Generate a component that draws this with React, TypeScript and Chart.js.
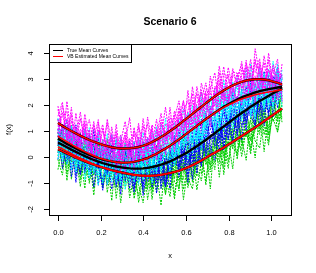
import React, { useEffect, useRef } from "react";
import { Chart, registerables } from "chart.js";

Chart.register(...registerables);

// ---------------- data ----------------
const xs = [0, 0.021, 0.042, 0.063, 0.084, 0.105, 0.126, 0.147, 0.168, 0.189, 0.21, 0.231, 0.252, 0.273, 0.294, 0.315, 0.336, 0.357, 0.378, 0.399, 0.42, 0.441, 0.462, 0.483, 0.504, 0.525, 0.546, 0.567, 0.588, 0.609, 0.63, 0.651, 0.672, 0.693, 0.714, 0.735, 0.756, 0.777, 0.798, 0.819, 0.84, 0.861, 0.882, 0.903, 0.924, 0.945, 0.966, 0.987, 1.008, 1.029, 1.05];

// true mean curves (black)
const trueMagenta = [1.30, 1.19, 1.09, 0.99, 0.90, 0.81, 0.73, 0.65, 0.58, 0.52, 0.46, 0.41, 0.37, 0.34, 0.32, 0.32, 0.33, 0.35, 0.38, 0.43, 0.49, 0.57, 0.66, 0.76, 0.87, 0.99, 1.11, 1.24, 1.38, 1.51, 1.65, 1.79, 1.92, 2.06, 2.19, 2.32, 2.44, 2.55, 2.65, 2.74, 2.82, 2.88, 2.93, 2.96, 2.98, 2.98, 2.97, 2.94, 2.89, 2.84, 2.78];
const trueCyan = [0.70, 0.60, 0.50, 0.41, 0.32, 0.23, 0.15, 0.08, 0.01, -0.05, -0.10, -0.14, -0.18, -0.20, -0.22, -0.22, -0.21, -0.19, -0.15, -0.10, -0.04, 0.04, 0.12, 0.22, 0.32, 0.43, 0.55, 0.67, 0.80, 0.93, 1.06, 1.19, 1.32, 1.45, 1.57, 1.69, 1.81, 1.92, 2.02, 2.11, 2.20, 2.28, 2.35, 2.41, 2.47, 2.52, 2.56, 2.60, 2.63, 2.66, 2.69];
const trueBlue = [0.55, 0.46, 0.37, 0.28, 0.19, 0.11, 0.03, -0.05, -0.12, -0.18, -0.24, -0.29, -0.33, -0.37, -0.40, -0.42, -0.44, -0.45, -0.45, -0.44, -0.42, -0.39, -0.35, -0.30, -0.24, -0.17, -0.09, 0.00, 0.09, 0.19, 0.30, 0.41, 0.53, 0.65, 0.78, 0.91, 1.04, 1.17, 1.30, 1.43, 1.56, 1.68, 1.80, 1.92, 2.03, 2.14, 2.24, 2.34, 2.44, 2.53, 2.62];
const trueGreen = [0.29, 0.21, 0.13, 0.05, -0.03, -0.10, -0.17, -0.24, -0.30, -0.36, -0.41, -0.46, -0.51, -0.55, -0.59, -0.63, -0.66, -0.69, -0.71, -0.72, -0.73, -0.72, -0.71, -0.69, -0.66, -0.62, -0.58, -0.53, -0.47, -0.40, -0.32, -0.23, -0.14, -0.04, 0.07, 0.16, 0.26, 0.36, 0.47, 0.58, 0.69, 0.80, 0.91, 1.02, 1.13, 1.25, 1.37, 1.49, 1.61, 1.73, 1.85];

// VB estimated mean curves (red)
const estMagenta = [1.30, 1.19, 1.09, 0.99, 0.90, 0.81, 0.73, 0.65, 0.58, 0.52, 0.46, 0.41, 0.37, 0.34, 0.32, 0.32, 0.33, 0.35, 0.38, 0.43, 0.49, 0.57, 0.66, 0.76, 0.87, 0.99, 1.11, 1.24, 1.38, 1.51, 1.65, 1.79, 1.92, 2.06, 2.19, 2.32, 2.44, 2.55, 2.65, 2.74, 2.82, 2.88, 2.93, 2.96, 2.98, 2.98, 2.97, 2.94, 2.89, 2.84, 2.78];
const estCyan = [0.79, 0.68, 0.58, 0.48, 0.38, 0.29, 0.20, 0.12, 0.04, -0.03, -0.08, -0.13, -0.17, -0.20, -0.22, -0.22, -0.21, -0.19, -0.15, -0.10, -0.04, 0.04, 0.12, 0.22, 0.32, 0.43, 0.55, 0.67, 0.80, 0.93, 1.06, 1.19, 1.32, 1.45, 1.57, 1.69, 1.80, 1.90, 1.99, 2.07, 2.15, 2.22, 2.28, 2.33, 2.38, 2.42, 2.46, 2.49, 2.52, 2.55, 2.58];
const estBlue = [0.39, 0.30, 0.21, 0.12, 0.03, -0.05, -0.13, -0.21, -0.28, -0.35, -0.41, -0.46, -0.51, -0.55, -0.59, -0.63, -0.66, -0.69, -0.71, -0.72, -0.73, -0.72, -0.71, -0.69, -0.66, -0.62, -0.58, -0.53, -0.47, -0.40, -0.32, -0.23, -0.14, -0.04, 0.07, 0.16, 0.26, 0.36, 0.47, 0.58, 0.69, 0.80, 0.91, 1.02, 1.13, 1.25, 1.37, 1.49, 1.61, 1.73, 1.85];
const estGreen = [0.29, 0.21, 0.13, 0.05, -0.03, -0.10, -0.17, -0.24, -0.30, -0.36, -0.41, -0.46, -0.51, -0.55, -0.59, -0.63, -0.66, -0.69, -0.71, -0.72, -0.73, -0.72, -0.71, -0.69, -0.66, -0.62, -0.58, -0.53, -0.47, -0.40, -0.32, -0.23, -0.14, -0.04, 0.07, 0.16, 0.26, 0.36, 0.47, 0.58, 0.69, 0.80, 0.91, 1.02, 1.13, 1.25, 1.37, 1.49, 1.61, 1.73, 1.85];

// observed curves: deviations from the group mean, in units of NOISE_UNIT
const NOISE_UNIT = 0.13;
const noiseGreen = [
  [3, -5, 7, -2, 0, -8, 4, 6, -3, 1, -6, 9, -1, 2, -4, 5, -7, 0, 3, -2, 8, -5, 1, -9, 4, -1, 6, -3, 2, -6, 0, 7, -4, 3, -10, 5, -2, 1, -7, 4, 8, -3, 0, -5, 2, 6, -1, -8, 3, 5, -4],
  [-2, 4, -6, 1, 5, -3, 0, 8, -7, 2, 6, -4, -1, 3, -9, 1, 5, -2, 7, -5, 0, -3, 4, 9, -6, 2, -8, 3, -1, 5, -4, 6, 1, -7, 2, -5, 10, -2, 0, 4, -6, 3, 7, -3, -1, 5, -9, 2, 4, -2, 6],
  [5, -1, 2, -7, 3, 8, -4, -2, 6, 0, -5, 1, 4, -8, 3, -2, 7, -6, 2, 5, -3, -1, 9, -4, 0, 6, -7, 1, 3, -5, 8, -2, -6, 4, 1, -3, 5, -8, 2, 7, -1, -4, 6, 0, -9, 3, 2, -5, 8, -3, 1],
  [-6, 2, 0, 5, -3, 1, -8, 7, 3, -4, 2, 6, -2, -5, 8, -1, 3, -7, 0, 4, -4, 7, -2, 1, -6, 9, -3, -5, 2, 6, -2, 0, 4, -8, 5, 2, -3, -6, 7, 1, -5, 8, -1, 3, -4, -7, 2, 5, -2, 0, 4],
  [1, 7, -4, -1, 3, -6, 5, 2, -9, 4, 0, -3, 7, 1, -5, 6, -2, 3, -8, 0, 5, -4, 2, 6, -1, -7, 4, 0, -3, 8, -5, 3, -1, 6, -4, 7, -8, 2, 5, -2, 3, -6, 1, -3, 9, -2, 4, -7, 1, 6, -3],
  [-3, -7, 4, 2, -1, 6, -2, -5, 1, 7, -4, 3, -9, 5, 0, -3, 8, -1, -6, 2, 4, -7, 3, -2, 7, -5, 1, 5, -9, 0, 3, -4, 7, -1, -5, 2, 6, -3, 1, -8, 5, -2, 4, -6, 0, 8, -4, 1, -1, -6, 2],
  [4, 0, -3, 9, -5, -2, 3, -6, 4, 1, 8, -7, 2, -1, 5, -4, 0, 6, -3, -8, 1, 3, -5, 7, -2, 0, 4, -6, 9, -3, -7, 2, 5, -2, 3, -1, -4, 6, -5, 2, 7, -1, -8, 4, 1, -3, 6, -5, 0, -2, 7],
  [-1, 6, -8, 3, 2, -4, 7, -1, -3, 5, -6, 0, 4, -2, 1, 9, -5, -3, 2, 6, -7, 1, -4, 3, 0, 5, -2, 7, -6, 1, 4, -8, 0, 3, -3, 6, -1, -5, 8, -2, -4, 2, 1, -7, 5, -1, 3, -3, 7, -6, 0],
];
const noiseBlue = [
  [2, -4, 1, 6, -7, 3, -1, 5, -3, 0, -8, 4, 2, -5, 7, -2, 1, -6, 3, 8, -4, 0, 5, -1, -7, 2, 6, -3, 1, -9, 4, -2, 7, -5, 0, 3, -6, 2, 8, -1, -3, 5, -4, 1, -7, 6, 0, -2, 4, -5, 3],
  [-5, 3, 8, -2, 0, -6, 1, 4, -4, 7, -1, -3, 6, 2, -8, 5, -2, 0, 4, -6, 9, -3, 1, -5, 2, -1, 7, -4, 3, -7, 0, 5, -2, 6, -3, -8, 1, 4, -1, 5, -6, 2, 7, -3, 0, -4, 8, -5, 1, 3, -2],
  [0, 6, -3, 4, -9, 2, -5, 7, 1, -2, 4, -6, 0, 8, -4, 3, -1, -7, 5, 2, -3, 6, -8, 1, 4, -5, 2, 0, 7, -3, -1, 4, -6, 2, 9, -4, -2, 6, -5, 3, 1, -8, 4, -1, 6, -3, 2, -6, 5, -1, 0],
  [7, -2, -5, 1, 4, -3, 8, -6, 2, -1, 5, 3, -7, 0, 6, -4, 2, -2, 7, -8, 1, 4, -3, 5, -6, 3, -1, 8, -4, 0, -5, 7, -2, 1, -6, 4, 2, -7, 3, 0, 6, -4, -1, 5, -3, 2, -8, 6, -2, 4, -1],
  [-3, 1, 4, -6, 8, 0, -4, 2, 5, -7, 3, -2, 9, -5, 1, -1, 6, -3, -4, 3, 7, -6, 0, 2, -2, -8, 5, 3, -1, 6, -4, 1, -7, 4, 2, 5, -3, 0, -5, 8, -2, 3, -6, 7, -1, 1, -4, 5, -7, 2, 4],
  [4, -7, 2, 0, -3, 6, -1, -4, 9, -2, -5, 1, 3, -6, 4, 7, -3, 2, -1, -5, 0, 8, -4, 3, -7, 1, -2, 5, 2, -4, 6, -8, 3, 0, 5, -2, -4, 7, -1, -6, 3, 0, -3, 8, -5, 2, 6, -1, -4, 1, -2],
  [-1, 5, -4, 7, 2, -6, 3, 0, -8, 4, 1, -3, 5, -1, -6, 2, 8, -5, 0, 3, -2, -4, 6, -7, 1, 4, -1, -3, 6, 2, -9, 3, 1, -4, 7, -2, 5, -6, 0, 2, -5, 7, 1, -3, 3, -7, 0, 4, -2, 6, -3],
  [3, -2, 6, -8, 1, 5, -3, -1, 4, 0, -7, 6, -2, 3, -4, 1, -6, 8, -3, 2, 5, -1, -5, 4, 0, -3, 7, -6, 1, 3, -2, -5, 4, 8, -1, 0, 3, -4, 6, -7, 2, -1, 5, -3, -6, 4, 1, -5, 3, 7, -4],
];
const noiseCyan = [
  [-4, 2, 5, -1, -6, 3, 7, -3, 0, -5, 4, -2, 8, -6, 1, -3, 5, 2, -7, 0, 6, -4, 1, -2, 9, -5, 3, 0, -4, 6, 2, -7, 4, -1, -3, 7, -5, 1, 3, -8, 0, 4, -2, 6, -4, -1, 5, -6, 2, 3, -3],
  [6, -3, 0, 4, -7, 1, -2, 5, -5, 8, -1, 3, -6, 2, 4, -8, 0, 6, -3, 1, -4, 7, -2, -5, 3, 0, -6, 4, 8, -2, -3, 1, -5, 6, 0, -2, 4, -7, 5, 1, -6, 2, -3, 9, -1, 3, -5, 0, -2, 7, -4],
  [-2, -5, 7, 1, -3, 4, -8, 2, 6, -1, 0, 5, -4, 3, -7, 6, 1, -2, 4, -5, 2, -1, -6, 8, 0, 3, -4, 1, -2, 5, -7, 6, 2, -3, -1, 4, -6, 8, -2, 0, 5, -3, -1, 2, -8, 6, -2, 3, -5, 1, 2],
  [1, 4, -6, 3, -2, -5, 2, 8, -4, 0, 6, -7, 1, -3, 5, 2, -4, -1, 7, -6, 3, 0, -5, 4, 2, -8, 1, 6, -3, -2, 5, -4, 7, -6, 3, 0, -1, 4, -5, 6, -3, 1, 8, -7, 2, -2, 4, -4, 0, 5, -6],
  [-6, 3, -1, 5, 0, -4, 7, -2, 1, -8, 4, 2, -3, 6, -5, 0, 3, -6, 2, 8, -2, -4, 5, -1, 3, 6, -7, 0, 4, -3, 1, -5, 9, -2, 2, -6, 3, -1, 5, -4, 7, -2, 0, -6, 4, 1, -3, 6, -1, -5, 3],
  [3, -6, 1, -2, 6, -1, -4, 5, 0, 3, -7, 2, -1, 7, -4, 5, -3, 1, -5, 4, -6, 2, 8, -3, -1, 4, 0, -5, 2, 6, -4, 3, -8, 1, 5, -2, 6, -3, -5, 2, 4, -7, 3, 1, -2, 0, -6, 5, 2, -3, 5],
  [0, -3, 4, -7, 5, 2, -1, -6, 3, 7, -2, -5, 2, 0, 8, -4, 1, -3, 6, -2, 4, -8, 1, 5, -3, -1, 6, -4, 2, 0, 7, -2, -6, 3, 1, -5, 2, 5, -3, 4, -1, -4, 6, -2, -7, 3, 2, -4, 8, -1, 0],
  [-5, 1, -2, 6, -4, 3, 5, -7, 0, 2, -3, 8, -1, -5, 4, 1, -6, 3, -2, 5, 0, -3, 7, -6, 2, 4, -2, -1, 5, -8, 3, 0, -4, 2, 6, -3, -7, 4, 1, -2, 5, 0, -5, 3, -1, 7, -4, 2, -6, 4, -2],
];
const noiseMagenta = [
  [5, -2, -6, 3, 1, -4, 7, 0, -5, 2, 6, -3, -1, 4, -7, 2, 9, -4, 1, -2, -6, 5, 3, -1, -3, 7, -5, 2, 0, -4, 8, -1, -6, 4, 2, -3, 6, -2, -5, 3, 1, -7, 5, 0, -2, 4, -4, 8, -1, 2, -3],
  [-1, 4, -3, 7, -5, 2, 0, -6, 5, -2, -4, 8, 1, -3, 3, -7, 2, 4, -1, 6, -3, -5, 1, 7, -2, 0, 4, -6, 3, 5, -2, -4, 7, 1, -8, 3, 0, -3, 6, -1, -5, 2, 4, -6, 9, 1, -2, -4, 5, 0, 3],
  [2, 7, -4, 0, -3, 5, -1, 3, -7, 4, 1, -5, 6, -2, 0, 3, -6, 5, 2, -4, 8, 0, -3, 2, -6, 4, 1, -2, 6, -7, 0, 5, -3, 2, 4, -6, 1, 7, -4, -1, 3, -2, 6, -5, 1, -3, 7, 0, -6, 4, 2],
  [-4, 0, 3, -6, 6, -2, 4, -3, 1, 7, -5, 2, -1, 5, -4, 0, 3, -7, 6, 1, -2, 4, -5, 0, 8, -3, -1, 5, -4, 2, 6, -6, 1, -2, 3, 7, -4, 0, 4, -6, 2, 5, -1, -3, 6, -5, 0, 3, -2, -4, 6],
  [1, -5, 8, -2, 2, -3, 5, -6, 0, 3, 4, -1, -4, 7, -3, 5, -2, 1, -5, 2, 6, -4, 3, -7, 1, -2, 5, 0, -3, 8, -5, 2, 4, -1, -4, 1, -6, 5, 3, -2, 0, 6, -4, 2, -7, 5, -1, 3, 1, -5, 0],
  [-3, 6, 1, -4, -1, 7, -2, 2, -5, 6, -3, 0, 4, -6, 2, 8, -1, -4, 3, -2, 0, 5, -6, 4, -1, 3, -7, 2, 6, -3, 1, -2, 5, -5, 7, -1, 3, -4, 2, 0, -6, 4, 1, -3, 5, 2, -5, 6, -2, 1, -1],
  [4, -1, -3, 5, -7, 1, 3, -2, 6, -4, 0, 7, -5, 1, 4, -3, -2, 6, -4, 8, -1, 2, -3, 5, 0, -6, 3, 7, -2, -1, 4, -5, 2, 6, -3, -2, 8, -1, -5, 4, 3, -2, 0, 6, -4, -1, 5, -3, 2, 7, -5],
  [-2, 3, 5, -4, 0, -6, 2, 6, -1, -3, 5, -2, 3, -8, 1, 4, -3, 0, 7, -5, 2, -1, 6, -4, 3, 1, -5, 4, 0, -2, -3, 7, -1, 3, -6, 2, 4, -2, -3, 5, -1, 1, -6, 4, 2, 6, -3, -1, 4, -2, 1],
];

const xTicks = [0, 0.2, 0.4, 0.6, 0.8, 1.0];
const xTickLabels = ["0.0", "0.2", "0.4", "0.6", "0.8", "1.0"];
const yTicks = [-2, -1, 0, 1, 2, 3, 4];
const yTickLabels = ["-2", "-1", "0", "1", "2", "3", "4"];
const legendLabels = ["True Mean Curves", "VB Estimated Mean Curves"];
const titleText = "Scenario 6";
const xLabel = "x";
const yLabel = "f(x)";

// ---------------- chart ----------------
const FONT = "'Liberation Sans', Arial, Helvetica, sans-serif";

// drawn bottom-to-top in this order
const groups = [
  { color: "#00CD00", center: trueGreen, noise: noiseGreen },
  { color: "#0000FF", center: trueBlue, noise: noiseBlue },
  { color: "#00FFFF", center: trueCyan, noise: noiseCyan },
  { color: "#FF00FF", center: trueMagenta, noise: noiseMagenta },
];

function pts(vals: number[]) {
  return vals.map((v, i) => ({ x: xs[i], y: v }));
}

function buildDatasets() {
  const ds: any[] = []; // in paint order (first = bottom)
  groups.forEach((g) => {
    g.noise.forEach((row) => {
      const n = Math.min(row.length, g.center.length, xs.length);
      const data = [];
      for (let i = 0; i < n; i++) data.push({ x: xs[i], y: g.center[i] + row[i] * NOISE_UNIT });
      ds.push({
        data,
        borderColor: g.color,
        borderWidth: 1,
        borderDash: [2, 1],
        pointRadius: 0,
        fill: false,
        tension: 0,
      });
    });
  });
  [trueGreen, trueBlue, trueCyan, trueMagenta].forEach((c) =>
    ds.push({ data: pts(c), borderColor: "#000000", borderWidth: 2.4, pointRadius: 0, fill: false, tension: 0 })
  );
  [estGreen, estBlue, estCyan, estMagenta].forEach((c) =>
    ds.push({ data: pts(c), borderColor: "#FF0000", borderWidth: 1.6, pointRadius: 0, fill: false, tension: 0 })
  );
  // Chart.js paints the first dataset on top, so reverse
  return ds.reverse();
}

const rAxes = {
  id: "rAxes",
  afterDraw(chart: any) {
    const { ctx, chartArea: a, scales } = chart;
    const sx = scales.x;
    const sy = scales.y;
    ctx.save();
    ctx.strokeStyle = "#000";
    ctx.fillStyle = "#000";
    ctx.lineWidth = 1;
    const L = Math.round(a.left), T = Math.round(a.top), R = Math.round(a.right), B = Math.round(a.bottom);
    ctx.strokeRect(L + 0.5, T + 0.5, R - L, B - T);

    ctx.font = `7.5px ${FONT}`;
    ctx.textAlign = "center";
    ctx.textBaseline = "middle";
    xTicks.forEach((v, i) => {
      const px = Math.round(sx.getPixelForValue(v)) + 0.5;
      ctx.beginPath();
      ctx.moveTo(px, B + 0.5);
      ctx.lineTo(px, B + 6);
      ctx.stroke();
      ctx.fillText(xTickLabels[i], px, B + 18);
    });
    yTicks.forEach((v, i) => {
      const py = Math.round(sy.getPixelForValue(v)) + 0.5;
      ctx.beginPath();
      ctx.moveTo(L + 0.5, py);
      ctx.lineTo(L - 5, py);
      ctx.stroke();
      ctx.save();
      ctx.translate(L - 18, py);
      ctx.rotate(-Math.PI / 2);
      ctx.fillText(yTickLabels[i], 0, 0);
      ctx.restore();
    });

    // axis titles
    ctx.font = `7.5px ${FONT}`;
    ctx.fillText(xLabel, (L + R) / 2, B + 41);
    ctx.save();
    ctx.translate(L - 40, (T + B) / 2);
    ctx.rotate(-Math.PI / 2);
    ctx.fillText(yLabel, 0, 0);
    ctx.restore();

    // main title
    ctx.font = `bold 10.5px ${FONT}`;
    ctx.fillText(titleText, (L + R) / 2, 22);

    // legend
    const lx = L, ly = T, lw = 82, lh = 18;
    ctx.fillStyle = "#fff";
    ctx.fillRect(lx + 0.5, ly + 0.5, lw, lh);
    ctx.strokeStyle = "#000";
    ctx.strokeRect(lx + 0.5, ly + 0.5, lw, lh);
    const cols = ["#000000", "#FF0000"];
    ctx.font = `5px ${FONT}`;
    ctx.textAlign = "left";
    legendLabels.forEach((lab, i) => {
      const yy = ly + 6.5 + i * 6;
      ctx.strokeStyle = cols[i];
      ctx.beginPath();
      ctx.moveTo(lx + 4, yy);
      ctx.lineTo(lx + 14, yy);
      ctx.stroke();
      ctx.fillStyle = "#000";
      ctx.fillText(lab, lx + 18, yy);
    });
    ctx.restore();
  },
};

export default function App() {
  const ref = useRef<HTMLCanvasElement | null>(null);
  useEffect(() => {
    if (!ref.current) return;
    const chart = new Chart(ref.current, {
      type: "line",
      data: { datasets: buildDatasets() },
      options: {
        animation: false,
        responsive: false,
        devicePixelRatio: 1,
        layout: { padding: { left: 49, top: 44, right: 25, bottom: 58 } },
        plugins: { legend: { display: false }, tooltip: { enabled: false }, title: { display: false } },
        elements: { point: { radius: 0 } },
        scales: {
          x: { type: "linear", min: -0.042, max: 1.092, display: false },
          y: { type: "linear", min: -2.23, max: 4.33, display: false },
        },
      },
      plugins: [rAxes],
    });
    return () => chart.destroy();
  }, []);
  return (
    <div style={{ position: "fixed", left: 0, top: 0, width: 316, height: 273, background: "#fff" }}>
      <canvas ref={ref} width={316} height={273} style={{ display: "block" }} />
    </div>
  );
}
